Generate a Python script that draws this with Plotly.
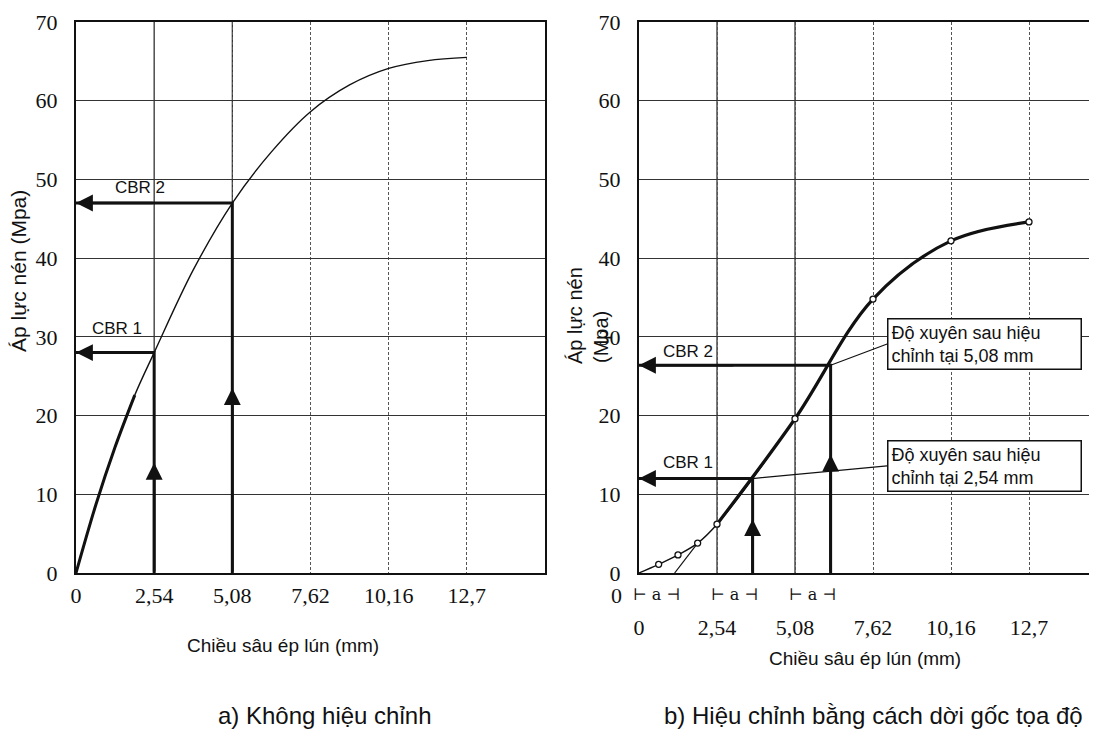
import plotly.graph_objects as go

W, H = 1097, 729

# ---------------- data: chart a) (no correction) ----------------
depth_a = [0, 0.64, 1.27, 1.91, 2.54, 3.81, 5.08, 6.35, 7.62, 8.89, 10.16, 11.43, 12.7]
pressure_a = [0, 8.6, 16.0, 22.6, 28.0, 38.5, 47.0, 53.5, 58.6, 62.0, 64.1, 65.1, 65.5]
std_depths = [2.54, 5.08]
cbr_pressure_a = [28.0, 47.0]

# ---------------- data: chart b) (corrected origin) ----------------
depth_b = [0, 0.64, 1.27, 1.91, 2.54, 5.08, 7.62, 10.16, 12.7]
pressure_b = [0, 1.1, 2.3, 3.8, 6.2, 19.6, 34.8, 42.2, 44.6]
origin_shift = 1.16          # "a"
cbr_pressure_b = [12.0, 26.4]

# ---------------- labels ----------------
x_tick_vals = [0, 2.54, 5.08, 7.62, 10.16, 12.7]
x_tick_text = ["0", "2,54", "5,08", "7,62", "10,16", "12,7"]
y_tick_vals = [0, 10, 20, 30, 40, 50, 60, 70]
cbr_labels = ["CBR 1", "CBR 2"]
callout_texts = ["Độ xuyên sau hiệu<br>chỉnh tại 2,54 mm",
                 "Độ xuyên sau hiệu<br>chỉnh tại 5,08 mm"]
x_title = "Chiều sâu ép lún (mm)"
y_title_a = "Áp lực nén (Mpa)"
y_title_b = ["Áp lực nén", "(Mpa)"]
captions = ["a) Không hiệu chỉnh", "b) Hiệu chỉnh bằng cách dời gốc tọa độ"]

cbr_depth_b = [d + origin_shift for d in std_depths]

# ---------------- helpers (page body has an 8px margin) ----------------
OFF = 8

def px(x):
    return (x - OFF) / W

def py(y):
    return 1 - (y - OFF) / H

SANS = "Liberation Sans, Arial, sans-serif"
SERIF = "Liberation Serif, Times New Roman, serif"
BLACK = "#111"

fig = go.Figure()

# ---- chart a traces ----
fig.add_trace(go.Scatter(x=depth_a, y=pressure_a, mode="lines",
                         line=dict(color=BLACK, width=1.4, shape="spline", smoothing=1.0),
                         xaxis="x", yaxis="y", hoverinfo="skip"))
fig.add_trace(go.Scatter(x=depth_a[:4], y=pressure_a[:4], mode="lines",
                         line=dict(color=BLACK, width=3, shape="spline", smoothing=1.0),
                         xaxis="x", yaxis="y", hoverinfo="skip"))
for xc, yc in zip(std_depths, cbr_pressure_a):
    fig.add_trace(go.Scatter(x=[xc, xc, 0], y=[0, yc, yc], mode="lines",
                             line=dict(color=BLACK, width=3),
                             xaxis="x", yaxis="y", hoverinfo="skip"))

# ---- chart b traces ----
fig.add_trace(go.Scatter(x=depth_b, y=pressure_b, mode="lines",
                         line=dict(color=BLACK, width=1.4, shape="spline", smoothing=1.0),
                         xaxis="x2", yaxis="y2", hoverinfo="skip"))
fig.add_trace(go.Scatter(x=depth_b[4:], y=pressure_b[4:], mode="lines",
                         line=dict(color=BLACK, width=3.2, shape="spline", smoothing=1.0),
                         xaxis="x2", yaxis="y2", hoverinfo="skip"))
fig.add_trace(go.Scatter(x=[origin_shift, depth_b[3]], y=[0, pressure_b[3]], mode="lines",
                         line=dict(color=BLACK, width=1.2),
                         xaxis="x2", yaxis="y2", hoverinfo="skip"))
for xc, yc in zip(cbr_depth_b, cbr_pressure_b):
    fig.add_trace(go.Scatter(x=[xc, xc, 0], y=[0, yc, yc], mode="lines",
                             line=dict(color=BLACK, width=3),
                             xaxis="x2", yaxis="y2", hoverinfo="skip"))
fig.add_trace(go.Scatter(x=depth_b[1:], y=pressure_b[1:], mode="markers",
                         marker=dict(symbol="circle", size=6, color="white",
                                     line=dict(color=BLACK, width=1.3)),
                         xaxis="x2", yaxis="y2", hoverinfo="skip"))

annotations = []
shapes = []

def txt(**kw):
    d = dict(showarrow=False, xanchor="center", yanchor="middle")
    d.update(kw)
    return d

# arrowheads
def add_arrows(xs, ys, xr, yr, frac):
    for xc, yc in zip(xs, ys):
        annotations.append(dict(x=xc, y=yc * frac, ax=xc, ay=0, xref=xr, yref=yr,
                                axref=xr, ayref=yr, text="", showarrow=True,
                                arrowhead=2, arrowsize=1.3, arrowwidth=2.6, arrowcolor=BLACK))
        annotations.append(dict(x=0, y=yc, ax=xc * 0.5, ay=yc, xref=xr, yref=yr,
                                axref=xr, ayref=yr, text="", showarrow=True,
                                arrowhead=2, arrowsize=1.3, arrowwidth=2.6, arrowcolor=BLACK))

add_arrows(std_depths, cbr_pressure_a, "x", "y", 0.5)
add_arrows(cbr_depth_b, cbr_pressure_b, "x2", "y2", 0.57)

# CBR labels
for lab, (lx, ly) in zip(cbr_labels, [(1.34, 31.0), (2.08, 49.0)]):
    annotations.append(txt(x=lx, y=ly, xref="x", yref="y", text=lab,
                           font=dict(family=SANS, size=17, color=BLACK)))
for lab, (lx, ly) in zip(cbr_labels, [(1.6, 14.0), (1.6, 28.2)]):
    annotations.append(txt(x=lx, y=ly, xref="x2", yref="y2", text=lab,
                           font=dict(family=SANS, size=17, color=BLACK)))

# call-out boxes
for t, xc, yc, by in zip(callout_texts, cbr_depth_b, cbr_pressure_b, [13.6, 29.1]):
    annotations.append(dict(x=xc, y=yc, ax=8.08, ay=by, xref="x2", yref="y2",
                            axref="x2", ayref="y2", text=t, showarrow=True,
                            arrowhead=0, arrowwidth=1.2, arrowcolor=BLACK,
                            xanchor="left", yanchor="middle", align="left",
                            width=186, borderpad=3, bordercolor=BLACK, borderwidth=1.5,
                            bgcolor="white",
                            font=dict(family=SANS, size=18, color=BLACK)))

# "a" offset markers
for start in [0] + std_depths:
    annotations.append(txt(x=start + origin_shift / 2, y=0, xref="x2", yref="y2",
                           yshift=-21, text="⊢ a ⊣",
                           font=dict(family="DejaVu Serif, serif", size=16, color=BLACK)))
annotations.append(txt(x=0, y=0, xref="x2", yref="y2", xshift=-23, yshift=-22,
                       text="0", font=dict(family=SERIF, size=22, color=BLACK)))

# axis titles
annotations.append(txt(x=px(283), y=py(645), xref="paper", yref="paper", text=x_title,
                       font=dict(family=SANS, size=19, color=BLACK)))
annotations.append(txt(x=px(865), y=py(658), xref="paper", yref="paper", text=x_title,
                       font=dict(family=SANS, size=19, color=BLACK)))
annotations.append(txt(x=px(19), y=py(271), xref="paper", yref="paper", text=y_title_a,
                       textangle=-90, font=dict(family=SANS, size=21, color=BLACK)))
annotations.append(txt(x=px(575), y=py(316), xref="paper", yref="paper", text=y_title_b[0],
                       textangle=-90, font=dict(family=SANS, size=20, color=BLACK)))
annotations.append(txt(x=px(601), y=py(337), xref="paper", yref="paper", text=y_title_b[1],
                       textangle=-90, font=dict(family=SANS, size=20, color=BLACK)))

# captions
annotations.append(txt(x=px(325), y=py(715), xref="paper", yref="paper", text=captions[0],
                       font=dict(family=SANS, size=24, color=BLACK)))
annotations.append(txt(x=px(873), y=py(715), xref="paper", yref="paper", text=captions[1],
                       font=dict(family=SANS, size=24, color=BLACK)))

# solid vertical grid lines at the standard depths
for xr, yr in [("x", "y"), ("x2", "y2")]:
    for d in std_depths:
        shapes.append(dict(type="line", xref=xr, yref=yr, x0=d, x1=d, y0=0, y1=70,
                           line=dict(color="#333", width=1.3), layer="below"))

y_dom = [py(573), py(22)]
common_x = dict(tickvals=x_tick_vals, ticktext=x_tick_text, showgrid=True,
                gridcolor="#555", gridwidth=1, griddash="3px,2px", zeroline=False,
                showline=True, linecolor=BLACK, linewidth=2, mirror=True, ticks="",
                tickfont=dict(family=SERIF, size=22, color=BLACK), fixedrange=True,
                automargin=False)
common_y = dict(tickvals=y_tick_vals, range=[0, 70], showgrid=True, gridcolor="#333",
                gridwidth=1.2, zeroline=False, showline=True, linecolor=BLACK, linewidth=2,
                ticks="", tickfont=dict(family=SERIF, size=22, color=BLACK),
                domain=y_dom, fixedrange=True, ticklabelstandoff=12, automargin=False)

fig.update_layout(
    width=W, height=H, margin=dict(l=0, r=0, t=0, b=0, autoexpand=False),
    paper_bgcolor="white", plot_bgcolor="white", showlegend=False,
    xaxis=dict(common_x, domain=[px(76), px(545)], range=[0, 15.24], anchor="y",
               ticklabelstandoff=2),
    yaxis=dict(common_y, anchor="x", mirror=True),
    xaxis2=dict(common_x, domain=[px(639), 1.0], range=[0, (W + OFF - 639) / 78 * 2.54],
                anchor="y2", ticklabelstandoff=34),
    yaxis2=dict(common_y, anchor="x2", mirror=False),
    annotations=annotations, shapes=shapes,
)

fig.write_html("out.html")
